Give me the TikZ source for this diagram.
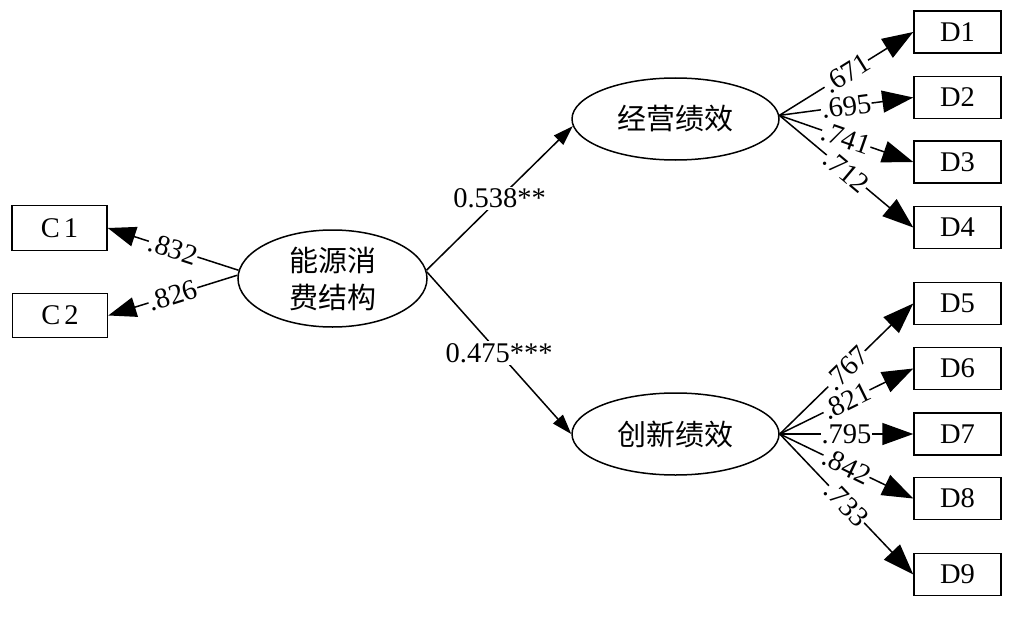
\documentclass[tikz,border=0pt]{standalone}
\usepackage{fontspec}
\setmainfont{Liberation Serif}
\newfontfamily\cjk{Noto Sans CJK SC}
\usetikzlibrary{shapes.geometric,arrows.meta}
\begin{document}
\begin{tikzpicture}[x=1pt,y=-1pt,
  every node/.style={font=\fontsize{28.5}{32}\selectfont},
  lat/.style={draw,ellipse,line width=1.5pt,inner sep=0pt,font=\cjk\fontsize{29}{37}\selectfont,align=center},
  obs/.style={draw,rectangle,line width=1.5pt,minimum width=87pt,minimum height=42pt,inner sep=0pt},
  ind/.style={line width=1.5pt,-{Triangle[length=31pt,width=22pt]}},
  cind/.style={line width=1.5pt,-{Triangle[length=28pt,width=20pt]}},
  reg/.style={line width=1.5pt,-{Triangle[length=20pt,width=13pt]}},
  coef/.style={fill=white,inner sep=0.5pt,sloped},
  rcoef/.style={fill=white,inner sep=2pt},
]
\useasboundingbox (0,0) rectangle (1009,634);
% latent variables
\node[lat,minimum width=189pt,minimum height=97pt] (E) at (332.5,278.5) {能源消\\费结构};
\node[lat,minimum width=207pt,minimum height=82pt] (O) at (675.5,119) {经营绩效};
\node[lat,minimum width=207pt,minimum height=82pt] (I) at (675.5,434) {创新绩效};
% observed
\node[obs,minimum width=95pt,minimum height=45pt] (C1) at (59.5,228) {C\kern4pt1};
\node[obs,minimum width=95pt,minimum height=44pt] (C2) at (60,315.5) {C\kern4pt2};
\node[obs] (D1) at (957.5,32) {D1};
\node[obs] (D2) at (957.5,97.5) {D2};
\node[obs] (D3) at (957.5,162) {D3};
\node[obs] (D4) at (957.5,227.5) {D4};
\node[obs] (D5) at (957.5,303.5) {D5};
\node[obs] (D6) at (957.5,368.5) {D6};
\node[obs] (D7) at (957.5,434) {D7};
\node[obs] (D8) at (957.5,498.5) {D8};
\node[obs] (D9) at (957.5,574.5) {D9};
% structural paths
\draw[reg] (E.5) -- node[rcoef]{0.538**} (O.184);
\draw[reg] (E.4) -- node[rcoef]{0.475***} (I.west);
% loadings
\draw[cind] (E.175) -- node[coef]{.832} (C1.east);
\draw[cind] (E.178) -- node[coef]{.826} (C2.east);
\draw[ind] (O.2) -- node[coef]{.671} (D1.west);
\draw[ind] (O.2) -- node[coef]{.695} (D2.west);
\draw[ind] (O.2) -- node[coef]{.741} (D3.west);
\draw[ind] (O.2) -- node[coef]{.712} (D4.west);
\draw[ind] (I.east) -- node[coef]{.767} (D5.west);
\draw[ind] (I.east) -- node[coef]{.821} (D6.west);
\draw[ind] (I.east) -- node[coef]{.795} (D7.west);
\draw[ind] (I.east) -- node[coef]{.842} (D8.west);
\draw[ind] (I.east) -- node[coef]{.733} (D9.west);
\end{tikzpicture}
\end{document}
